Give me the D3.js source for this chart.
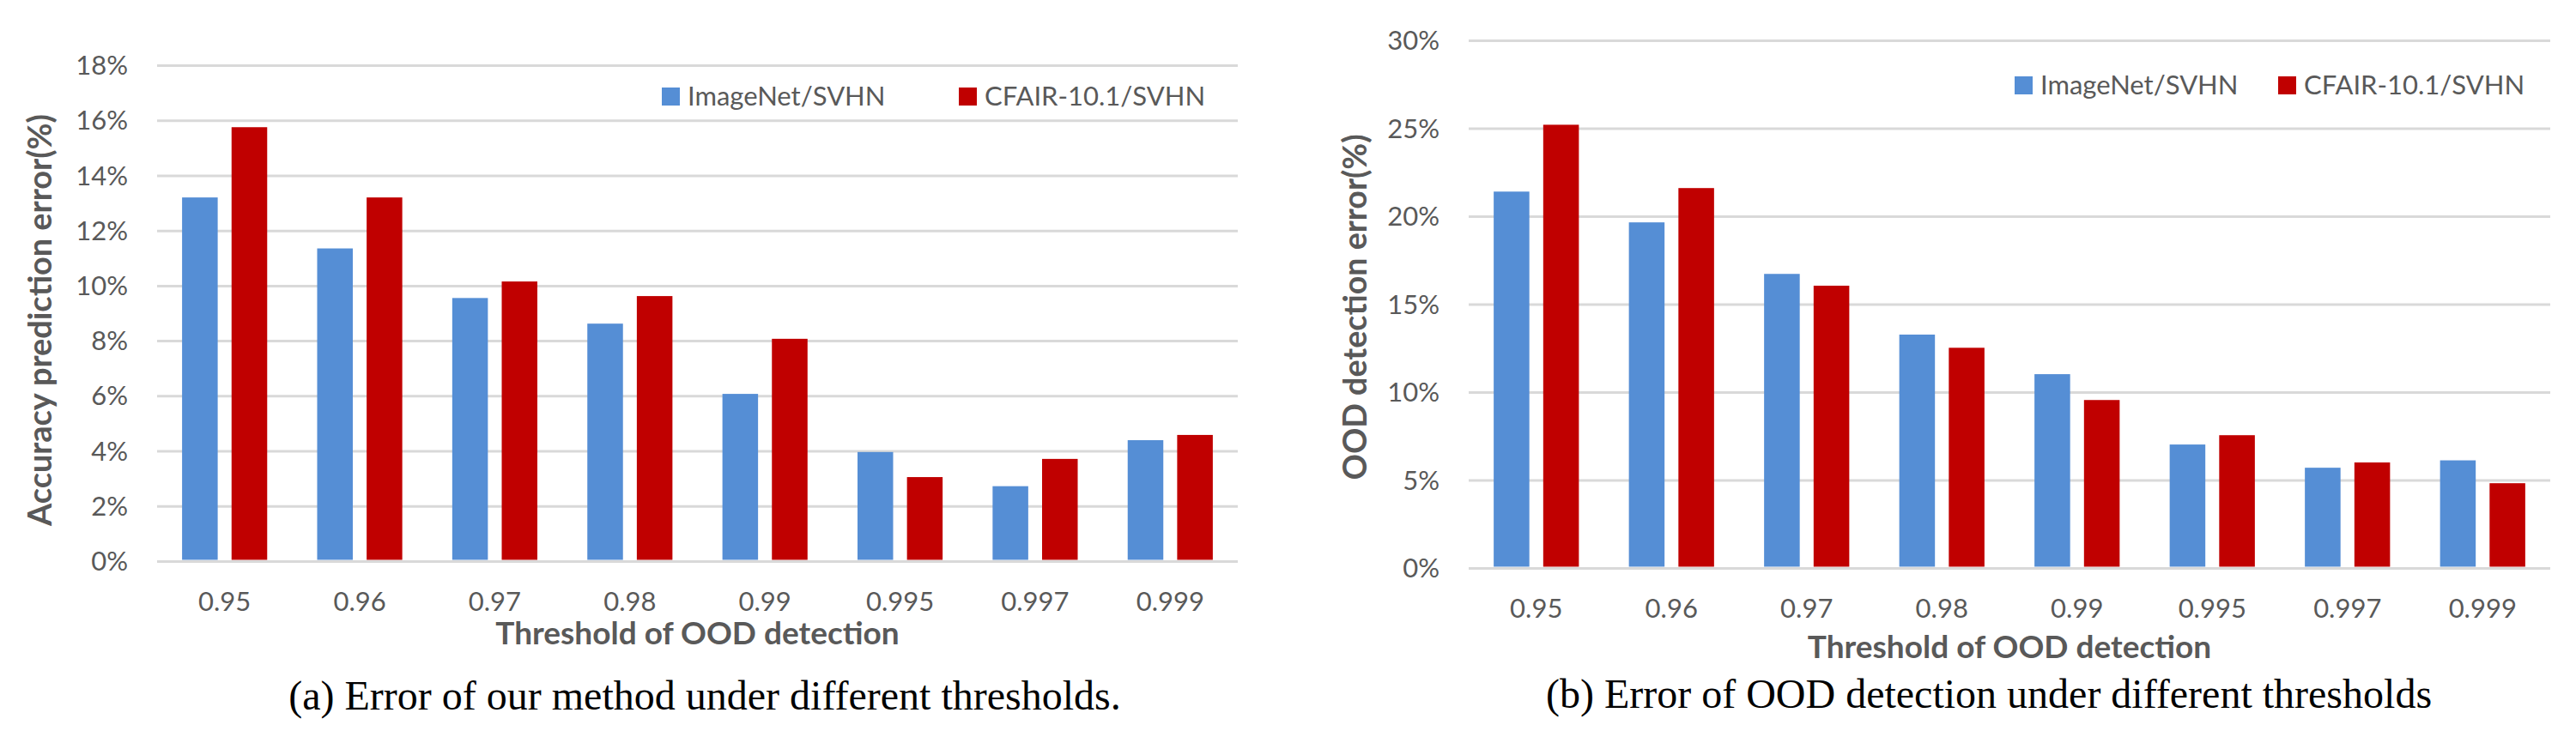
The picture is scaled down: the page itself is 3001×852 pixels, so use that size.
<!DOCTYPE html>
<html>
<head>
<meta charset="utf-8">
<script src="https://cdn.jsdelivr.net/npm/d3@7"></script>
<style>
  body { margin: 0; background: #fff; }
  svg { display: block; }
  .tick-label { font-family: Lato, "Open Sans", sans-serif; fill: #595959; }
  .axis-title { font-family: Lato, "Open Sans", sans-serif; font-weight: bold; fill: #595959; }
  .caption { font-family: "Liberation Serif", "Times New Roman", serif; fill: #000; }
</style>
</head>
<body>
<svg id="fig" width="3001" height="852"></svg>
<script>
// thresholds on the x axis (same for both panels)
var thresholds = ["0.95", "0.96", "0.97", "0.98", "0.99", "0.995", "0.997", "0.999"];
var seriesNames = ["ImageNet/SVHN", "CFAIR-10.1/SVHN"];

// (a) accuracy prediction error, in %
var accImageNet = [13.2, 11.35, 9.55, 8.62, 6.07, 3.96, 2.72, 4.39];
var accCfair = [15.75, 13.2, 10.15, 9.62, 8.07, 3.05, 3.71, 4.58];
var accTicks = [0, 2, 4, 6, 8, 10, 12, 14, 16, 18];

// (b) OOD detection error, in %
var oodImageNet = [21.4, 19.65, 16.72, 13.27, 11.02, 7.02, 5.7, 6.12];
var oodCfair = [25.2, 21.6, 16.05, 12.52, 9.55, 7.55, 6.0, 4.82];
var oodTicks = [0, 5, 10, 15, 20, 25, 30];

var colors = ["#558ed5", "#c00000"];

var svg = d3.select("#fig");

function drawPanel(p) {
    var g = svg.append("g");

    var xScale = d3.scaleBand()
        .domain(thresholds)
        .range([p.left, p.right])
        .paddingInner(0.37)
        .paddingOuter(0.185);

    var xInner = d3.scaleBand()
        .domain(seriesNames)
        .range([0, xScale.bandwidth()])
        .paddingInner(0.28);

    var yScale = d3.scaleLinear()
        .domain([0, d3.max(p.ticks)])
        .range([p.bottom, p.top]);

    // gridlines
    g.append("g")
        .attr("transform", "translate(" + p.left + ",0)")
        .call(d3.axisLeft(yScale).tickValues(p.ticks).tickSize(-(p.right - p.left)).tickFormat(""))
        .call(g => g.select(".domain").remove())
        .call(g => g.selectAll(".tick line").attr("stroke", "#d9d9d9").attr("stroke-width", 3));

    // y tick labels
    g.append("g")
        .selectAll("text")
        .data(p.ticks)
        .enter()
        .append("text")
        .attr("class", "tick-label")
        .attr("x", p.left - 34)
        .attr("y", d => yScale(d))
        .attr("dy", "0.36em")
        .attr("text-anchor", "end")
        .style("font-size", "31px")
        .text(d => d + "%");

    // bars
    var rows = thresholds.map(function (t, i) {
        return { key: t, values: [p.series[0][i], p.series[1][i]] };
    });

    g.append("g")
        .selectAll("g")
        .data(rows)
        .enter()
        .append("g")
        .attr("transform", d => "translate(" + xScale(d.key) + ",0)")
        .selectAll("rect")
        .data(d => d.values.map((v, j) => ({ name: seriesNames[j], value: v, j: j })))
        .enter()
        .append("rect")
        .attr("x", d => xInner(d.name))
        .attr("y", d => yScale(d.value))
        .attr("width", xInner.bandwidth())
        .attr("height", d => yScale(0) - yScale(d.value) - 1.5)
        .attr("fill", d => colors[d.j]);

    // x tick labels
    g.append("g")
        .selectAll("text")
        .data(thresholds)
        .enter()
        .append("text")
        .attr("class", "tick-label")
        .attr("x", d => xScale(d) + xScale.bandwidth() / 2)
        .attr("y", p.xLabelY)
        .attr("text-anchor", "middle")
        .style("font-size", "31px")
        .text(d => d);

    // axis titles
    g.append("text")
        .attr("class", "axis-title")
        .attr("x", (p.left + p.right) / 2)
        .attr("y", p.xTitleY)
        .attr("text-anchor", "middle")
        .style("font-size", "37px")
        .text("Threshold of OOD detection");

    g.append("text")
        .attr("class", "axis-title")
        .attr("transform", "translate(" + p.yTitleX + "," + p.yTitleY + ") rotate(-90)")
        .attr("text-anchor", "middle")
        .attr("textLength", p.yTitleLen)
        .attr("lengthAdjust", "spacingAndGlyphs")
        .style("font-size", "38px")
        .text(p.yTitle);

    // legend
    var leg = g.append("g");
    seriesNames.forEach(function (name, j) {
        leg.append("rect")
            .attr("x", p.legendX[j])
            .attr("y", p.legendY - 21)
            .attr("width", 21)
            .attr("height", 21)
            .attr("fill", colors[j]);
        leg.append("text")
            .attr("class", "tick-label")
            .attr("x", p.legendX[j] + 30)
            .attr("y", p.legendY)
            .style("font-size", "31px")
            .text(name);
    });

    // caption
    g.append("text")
        .attr("class", "caption")
        .attr("x", p.captionX)
        .attr("y", p.captionY)
        .attr("text-anchor", "middle")
        .style("font-size", "48px")
        .text(p.caption);
}

drawPanel({
    left: 183, right: 1442, top: 76, bottom: 654,
    ticks: accTicks,
    series: [accImageNet, accCfair],
    xLabelY: 712, xTitleY: 751,
    yTitle: "Accuracy prediction error(%)", yTitleX: 60, yTitleY: 373, yTitleLen: 480,
    legendX: [771, 1117], legendY: 123,
    caption: "(a) Error of our method under different thresholds.",
    captionX: 821, captionY: 827
});

drawPanel({
    left: 1711, right: 2971, top: 47, bottom: 662,
    ticks: oodTicks,
    series: [oodImageNet, oodCfair],
    xLabelY: 720, xTitleY: 767,
    yTitle: "OOD detection error(%)", yTitleX: 1592, yTitleY: 358, yTitleLen: 403,
    legendX: [2347, 2654], legendY: 110,
    caption: "(b) Error of OOD detection under different thresholds",
    captionX: 2317, captionY: 825
});
</script>
</body>
</html>
